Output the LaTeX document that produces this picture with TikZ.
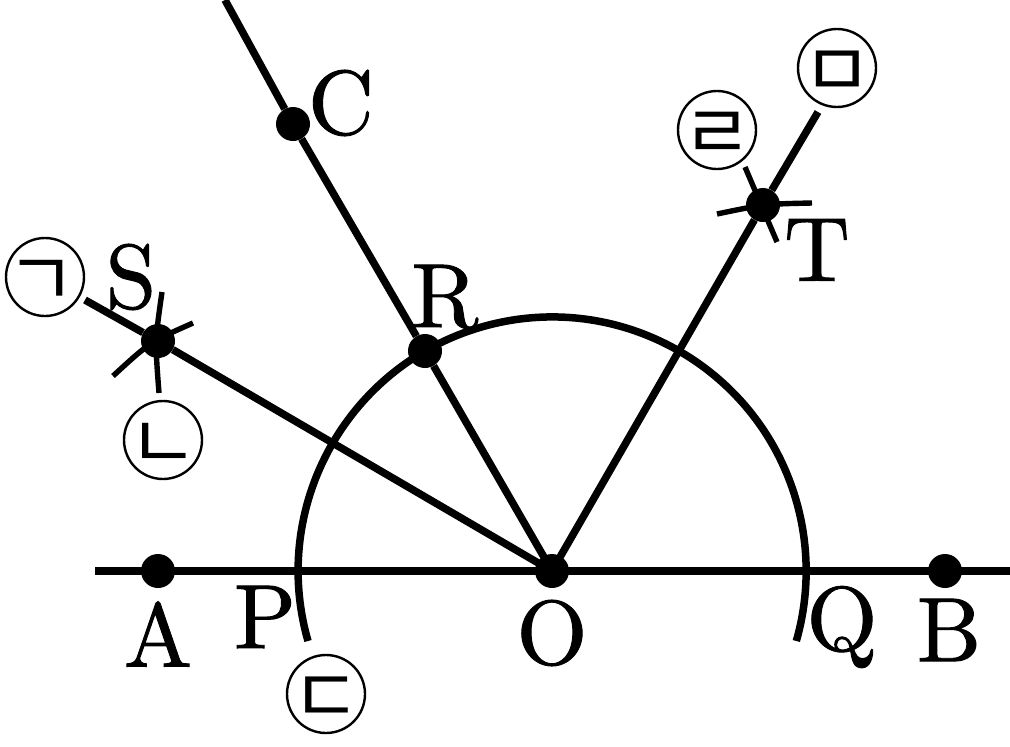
\documentclass[tikz,border=0pt]{standalone}
\usepackage{fontspec}
\newfontfamily\krfont{Noto Sans CJK KR}
\newfontfamily\lmfont{Latin Modern Roman}[FakeBold=1]
\tikzset{
 every picture/.style={x=1pt,y=-1pt},
 ln/.style={line width=7.5pt,draw=black},
 tk/.style={line width=5.4pt,draw=black},
 dot/.style={circle,fill=black,inner sep=0pt,minimum size=34pt},
 lab/.style={inner sep=0pt,scale=9.1,font=\lmfont\normalsize},
 circ/.style={circle,draw=black,line width=2.4pt,inner sep=0pt,minimum size=78pt},
 kr/.style={inner sep=0pt,yshift=-6pt,font=\krfont\fontsize{76}{76}\selectfont}
}
\begin{document}
\begin{tikzpicture}
\useasboundingbox (0,0) rectangle (1010,747);
\fill[white] (0,0) rectangle (1010,747);
\coordinate (lft) at (95,571);
\coordinate (rgt) at (1010,571);
\coordinate (top) at (225,0);
\coordinate (se) at (85,300);
\coordinate (te) at (818,112);
\coordinate (ars) at (308,641);
\coordinate (s1a) at (162,292); \coordinate (s1m) at (155,341); \coordinate (s1b) at (159,393);
\coordinate (s2a) at (113,376); \coordinate (s2m) at (150,342); \coordinate (s2b) at (193,323);
\coordinate (t1a) at (717,214); \coordinate (t1m) at (765,204); \coordinate (t1b) at (812,203);
\coordinate (t2a) at (745,167); \coordinate (t2m) at (761,205); \coordinate (t2b) at (777,242);
\node[dot] (O) at (552,571) {};
\node[dot] (A) at (158,571) {};
\node[dot] (B) at (945,571) {};
\node[dot] (C) at (293,124) {};
\node[dot] (R) at (425,351) {};
\node[dot] (S) at (158,341) {};
\node[dot] (T) at (763,205) {};
\draw[ln] (lft) -- (rgt);
\draw[ln] (top) -- (C) -- (R) -- (O.center);
\draw[ln] (se) -- (S) -- (O.center);
\draw[ln] (te) -- (T) -- (O.center);
\draw[ln] (ars) arc[start angle=164,end angle=376,radius=254];
\draw[tk] (s1a) .. controls (s1m) .. (s1b);
\draw[tk] (s2a) .. controls (s2m) .. (s2b);
\draw[tk] (t1a) .. controls (t1m) .. (t1b);
\draw[tk] (t2a) -- (t2b);
\node[lab] (lC) at (341,103) {C};
\node[lab] (lS) at (131,277) {S};
\node[lab] (lR) at (445,297) {R};
\node[lab] (lT) at (817,250) {T};
\node[lab] (lA) at (158,634) {A};
\node[lab] (lP) at (265,617) {P};
\node[lab] (lO) at (552,633) {O};
\node[lab] (lQ) at (842,627) {Q};
\node[lab] (lB) at (949,630) {B};
\node[circ] (k1) at (45,277) {};
\node[circ] (k2) at (163,440) {};
\node[circ] (k3) at (326,694) {};
\node[circ] (k4) at (717,130) {};
\node[circ] (k5) at (837,68) {};
\node[kr,xshift=-4pt] at (k1) {ㄱ};
\node[kr] at (k2) {ㄴ};
\node[kr] at (k3) {ㄷ};
\node[kr] at (k4) {ㄹ};
\node[kr] at (k5) {ㅁ};
\end{tikzpicture}
\end{document}
